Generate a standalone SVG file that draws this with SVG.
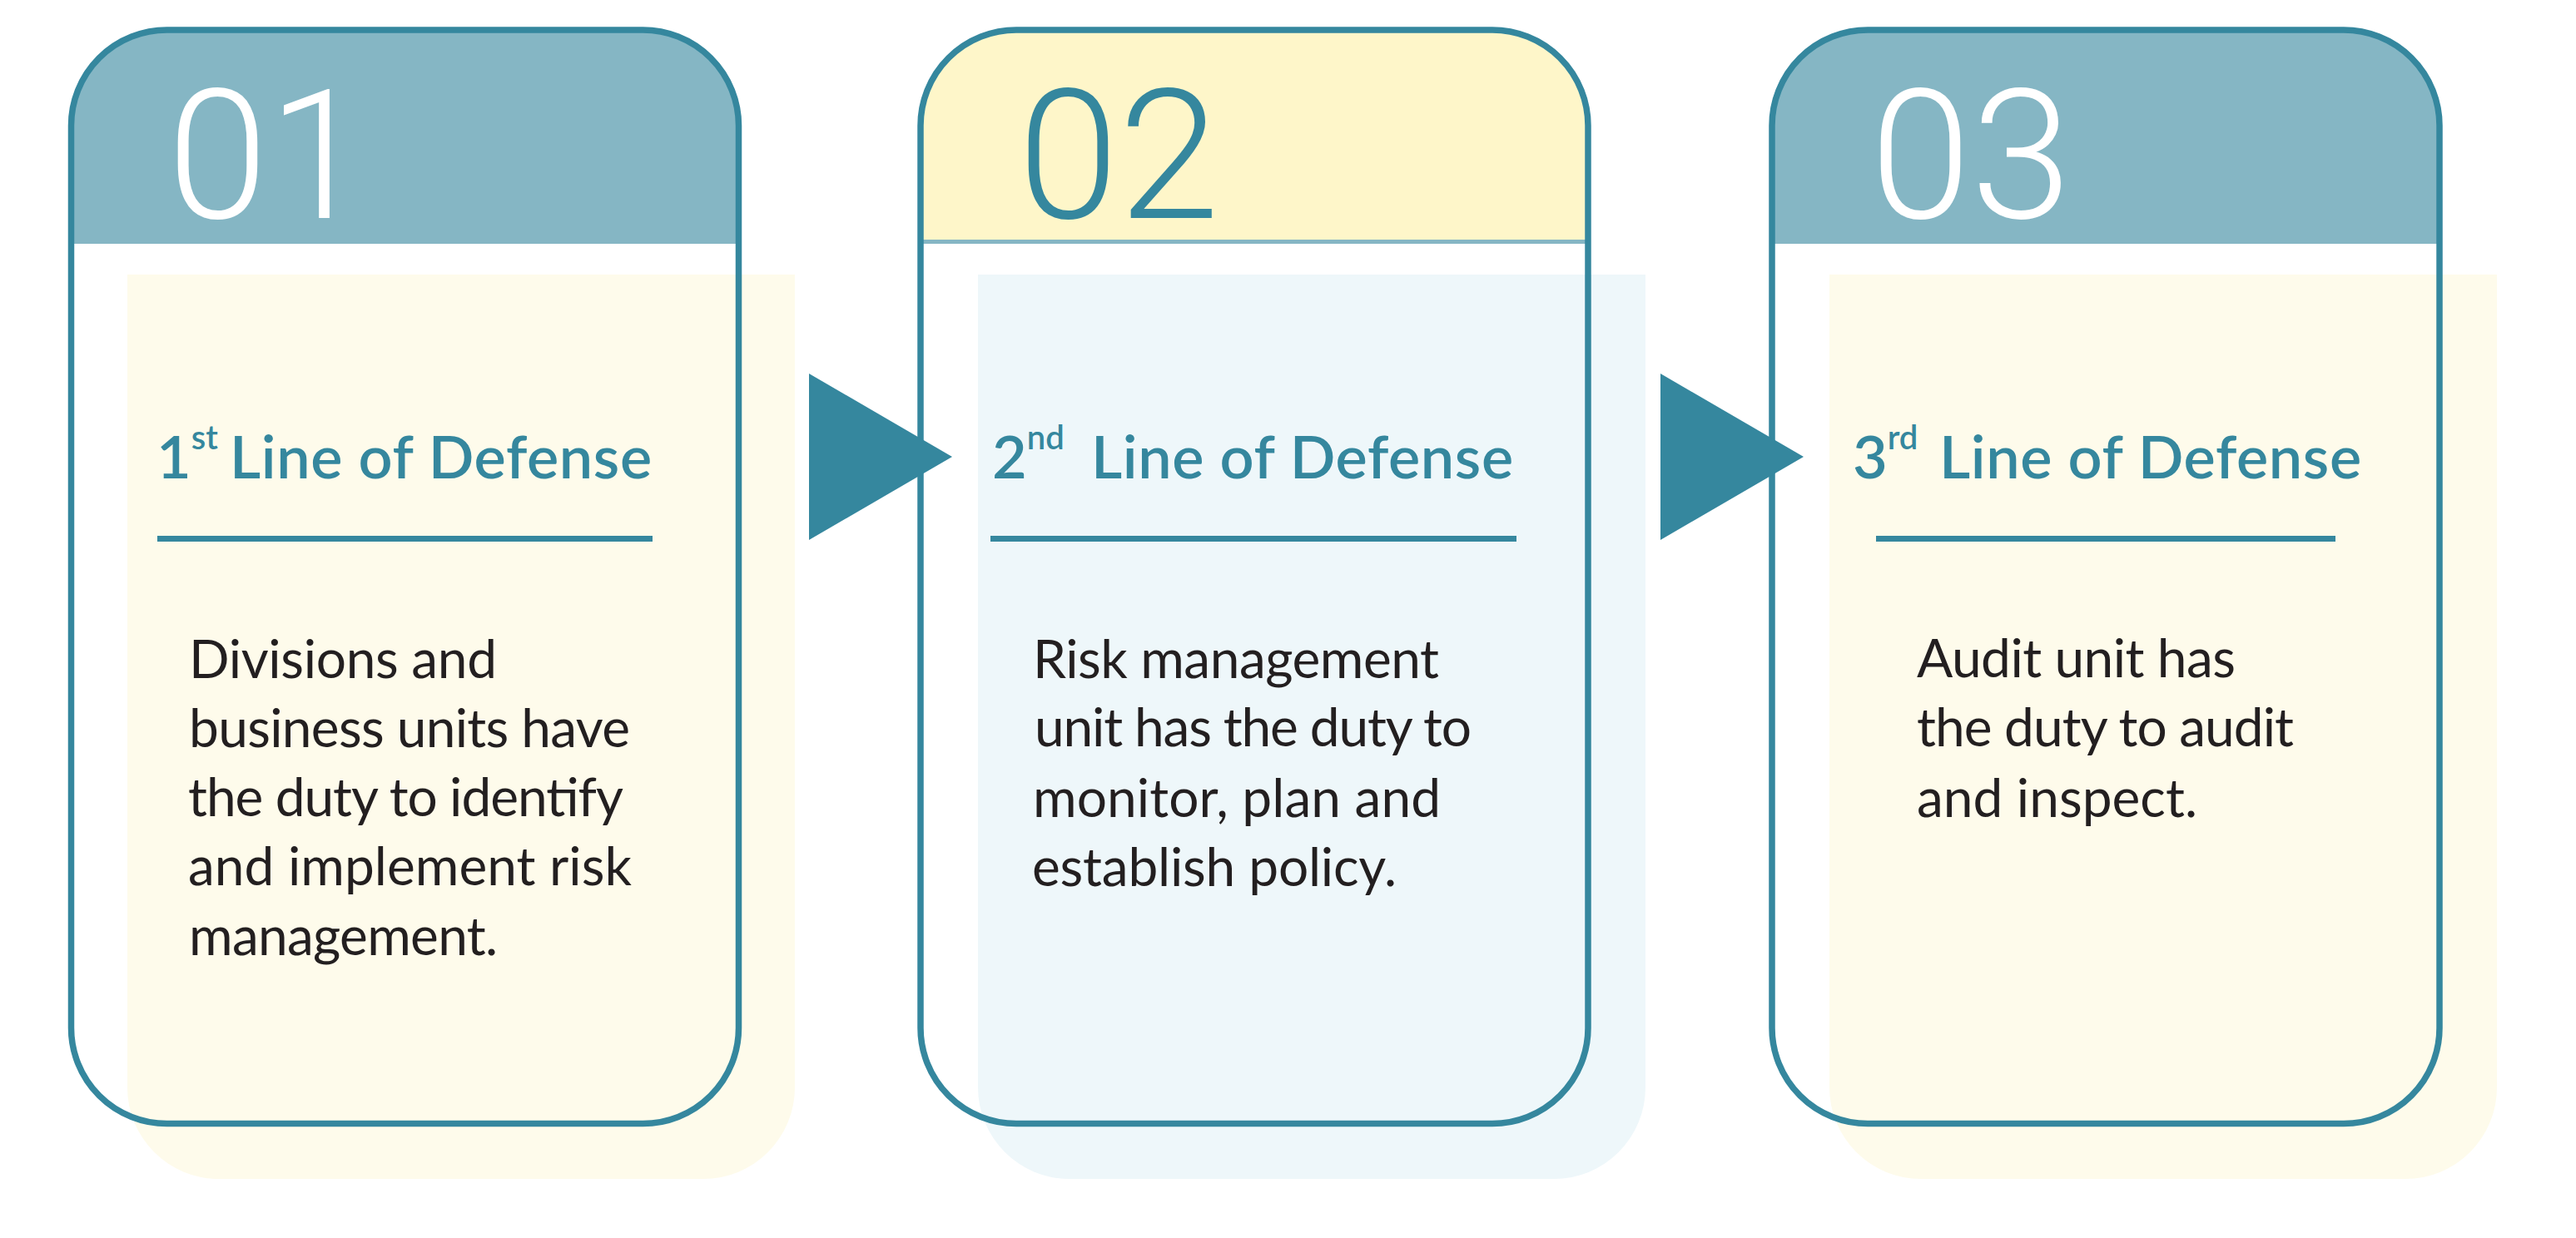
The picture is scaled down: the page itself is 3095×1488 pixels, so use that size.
<svg xmlns="http://www.w3.org/2000/svg" width="3095" height="1488" viewBox="0 0 3095 1488">
<style>
.card{fill:none;stroke:#35879E;stroke-width:7.5}
.shadowY{fill:#FEFBEB}
.shadowB{fill:#EEF7FA}
.hdrB{fill:#85B6C4}
.hdrY{fill:#FEF6C9}
.num{font-family:Roboto,"Liberation Sans",sans-serif;font-weight:300;font-size:218px}
.title{font-family:Lato,"Liberation Sans",sans-serif;font-weight:600;font-size:72px;fill:#35879E}
.sup{font-size:40px}
.lod{letter-spacing:0.6px}
.body{font-family:Lato,"Liberation Sans",sans-serif;font-weight:400;font-size:64px;fill:#231F20}
.rule{fill:#35879E}
.arrow{fill:#35879E}
</style>
<rect width="3095" height="1488" fill="#FFFFFF"/>
<g id="card1">
<path class="shadowY" d="M153,330 H955 V1307 A110,110 0 0 1 845,1417 H263 A110,110 0 0 1 153,1307 Z"/>
<path class="hdrB" d="M85.5,293 V151 A115,115 0 0 1 200.5,36 H772.5 A115,115 0 0 1 887.5,151 V293 Z"/>
<rect class="card" x="85.5" y="36" width="802" height="1314.5" rx="115" ry="115"/>
<text class="num" x="201" y="262" fill="#FFFFFF">01</text>
<text class="title" x="188" y="575">1<tspan class="sup" dy="-35">st</tspan><tspan class="lod" x="276" dy="35">Line of Defense</tspan></text>
<rect class="rule" x="189" y="644" width="595" height="7"/>
<text class="body" x="227" y="815" textLength="370">Divisions and</text>
<text class="body" x="227" y="898" textLength="530">business units have</text>
<text class="body" x="226" y="981" textLength="523">the duty to identify</text>
<text class="body" x="226" y="1064" textLength="533">and implement risk</text>
<text class="body" x="227" y="1148" textLength="371">management.</text>
</g>
<g id="card2">
<path class="shadowB" d="M1175,330 H1977 V1307 A110,110 0 0 1 1867,1417 H1285 A110,110 0 0 1 1175,1307 Z"/>
<path class="hdrY" d="M1106,293 V151 A115,115 0 0 1 1221,36 H1793 A115,115 0 0 1 1908,151 V293 Z"/>
<rect x="1106" y="288" width="802" height="5" fill="#85B6C4"/>
<rect class="card" x="1106" y="36" width="802" height="1314.5" rx="115" ry="115"/>
<text class="num" x="1223" y="262" fill="#35879E">02</text>
<text class="title" x="1192" y="575">2<tspan class="sup" dy="-35">nd</tspan><tspan class="lod" x="1311" dy="35">Line of Defense</tspan></text>
<rect class="rule" x="1190" y="644" width="632" height="7"/>
<text class="body" x="1241" y="815" textLength="488">Risk management</text>
<text class="body" x="1243" y="897" textLength="525">unit has the duty to</text>
<text class="body" x="1241" y="982" textLength="490">monitor, plan and</text>
<text class="body" x="1240" y="1065" textLength="438">establish policy.</text>
</g>
<g id="card3">
<path class="shadowY" d="M2198,330 H3000 V1307 A110,110 0 0 1 2890,1417 H2308 A110,110 0 0 1 2198,1307 Z"/>
<path class="hdrB" d="M2129,293 V151 A115,115 0 0 1 2244,36 H2816 A115,115 0 0 1 2931,151 V293 Z"/>
<rect class="card" x="2129" y="36" width="802" height="1314.5" rx="115" ry="115"/>
<text class="num" x="2247" y="262" fill="#FFFFFF">03</text>
<text class="title" x="2226" y="575">3<tspan class="sup" dy="-35">rd</tspan><tspan class="lod" x="2330" dy="35">Line of Defense</tspan></text>
<rect class="rule" x="2254" y="644" width="552" height="7"/>
<text class="body" x="2303" y="814" textLength="383">Audit unit has</text>
<text class="body" x="2303" y="897" textLength="453">the duty to audit</text>
<text class="body" x="2303" y="982" textLength="337">and inspect.</text>
</g>
<g id="connectors">
<polygon class="arrow" points="972,449 1144,549 972,649"/>
<polygon class="arrow" points="1995,449 2167,549 1995,649"/>
</g>
</svg>
